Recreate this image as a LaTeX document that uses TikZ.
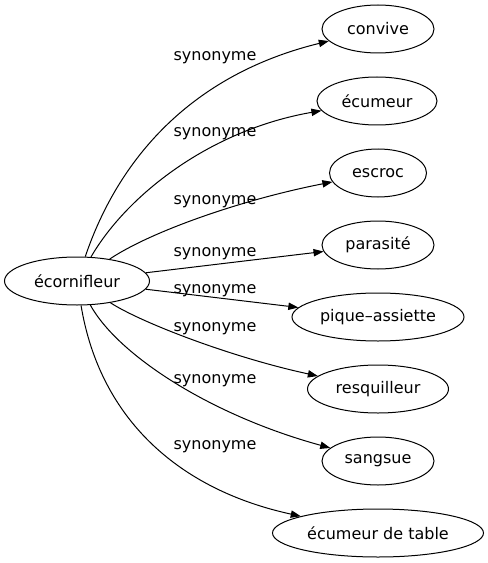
\documentclass[tikz,border=0pt]{standalone}
\usepackage{fontspec}
\setmainfont{DejaVu Sans}
\usepackage{tikz}
\usetikzlibrary{arrows.meta, shapes.geometric}

\begin{document}
\begin{tikzpicture}[x=0.75pt, y=-0.75pt,
    mot/.style={shape=ellipse, draw=black, line width=0.75pt, inner sep=0pt, minimum height=36pt,
        font=\fontsize{12}{14}\selectfont},
    syn/.style={-{Triangle[length=7.5pt, width=5.5pt]}, line width=0.75pt},
    lbl/.style={anchor=base, font=\fontsize{12}{14}\selectfont}]

    \useasboundingbox (0,0) rectangle (487,563);

    \node[mot, minimum width=108.75pt] (ecor) at (77, 281)  {écornifleur};
    \node[mot, minimum width=84pt]     (conv) at (378, 29)  {convive};
    \node[mot, minimum width=90pt]     (ecum) at (377, 101) {écumeur};
    \node[mot, minimum width=72.75pt]  (escr) at (378, 173) {escroc};
    \node[mot, minimum width=84pt]     (para) at (378, 245) {parasité};
    \node[mot, minimum width=129pt]    (piqu) at (378, 317) {pique–assiette};
    \node[mot, minimum width=105.75pt] (resq) at (378, 389) {resquilleur};
    \node[mot, minimum width=84pt]     (sang) at (378, 461) {sangsue};
    \node[mot, minimum width=158.25pt] (ecta) at (378, 533) {écumeur de table};

    \draw[syn] (ecor) .. controls (118, 160) and (190, 75)  .. (conv) node[lbl] at (215, 61)  {synonyme};
    \draw[syn] (ecor) .. controls (127, 195) and (210, 130) .. (ecum) node[lbl] at (215, 137) {synonyme};
    \draw[syn] (ecor) .. controls (150, 232) and (240, 200) .. (escr) node[lbl] at (215, 204) {synonyme};
    \draw[syn] (ecor) -- (para) node[lbl] at (215, 256) {synonyme};
    \draw[syn] (ecor) -- (piqu) node[lbl] at (215, 293) {synonyme};
    \draw[syn] (ecor) .. controls (140, 322) and (230, 357) .. (resq) node[lbl] at (215, 331) {synonyme};
    \draw[syn] (ecor) .. controls (118, 355) and (210, 415) .. (sang) node[lbl] at (215, 383) {synonyme};
    \draw[syn] (ecor) .. controls (100, 420) and (180, 490) .. (ecta) node[lbl] at (215, 449) {synonyme};

\end{tikzpicture}
\end{document}
